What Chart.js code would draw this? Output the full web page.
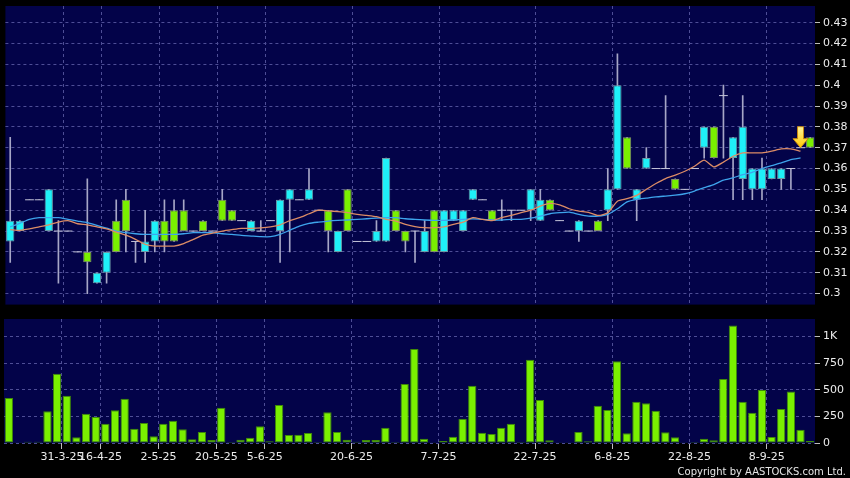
<!DOCTYPE html>
<html><head><meta charset="utf-8">
<script src="https://cdn.jsdelivr.net/npm/chart.js@4.4.1/dist/chart.umd.min.js"></script>
<style>
html,body{margin:0;padding:0;background:#000;width:850px;height:478px;overflow:hidden;font-family:'DejaVu Sans',sans-serif;}
#top{position:absolute;left:0;top:0;}
#bot{position:absolute;left:0;top:312px;}
#copy{position:absolute;right:4px;top:465px;color:#e6e6e6;font:10px 'DejaVu Sans',sans-serif;line-height:13px;white-space:nowrap;}
</style></head><body>
<canvas id="top" width="850" height="310"></canvas>
<canvas id="bot" width="850" height="166"></canvas>
<div id="copy">Copyright by AASTOCKS.com Ltd.</div>
<script>
// ---- data ----
const openP = [.325,.33,.345,.345,.33,.33,.33,.32,.32,.305,
 .31,.335,.345,.325,.32,.325,.335,.34,.34,.33,
 .335,.33,.345,.34,.335,.33,.33,.335,.33,.345,
 .345,.345,.34,.34,.32,.35,.325,.325,.325,.325,
 .34,.33,.33,.32,.34,.32,.335,.33,.345,.345,
 .34,.34,.34,.34,.34,.335,.345,.335,.33,.33,
 .33,.335,.34,.35,.375,.345,.36,.36,.36,.355,
 .35,.36,.37,.38,.395,.365,.355,.35,.35,.355,
 .355,.36,.37,.375];
const highP = [.375,.335,.345,.345,.35,.335,.33,.32,.355,.31,
 .32,.345,.35,.325,.34,.335,.345,.345,.345,.33,
 .335,.33,.35,.34,.335,.335,.335,.335,.345,.35,
 .345,.36,.34,.34,.33,.35,.325,.325,.335,.365,
 .34,.33,.33,.335,.34,.34,.34,.34,.35,.345,
 .34,.345,.34,.34,.35,.35,.345,.335,.33,.335,
 .33,.335,.36,.415,.375,.35,.37,.36,.395,.355,
 .35,.36,.38,.38,.40,.375,.395,.36,.365,.36,
 .36,.36,.37,.375];
const lowP = [.315,.33,.345,.345,.33,.305,.33,.32,.30,.305,
 .305,.32,.32,.315,.315,.32,.32,.325,.33,.33,
 .33,.33,.335,.335,.335,.33,.33,.335,.315,.32,
 .345,.345,.34,.32,.32,.33,.325,.325,.325,.325,
 .33,.32,.315,.32,.32,.32,.335,.33,.345,.345,
 .335,.335,.335,.34,.335,.335,.34,.335,.33,.325,
 .33,.33,.335,.35,.36,.335,.36,.36,.36,.35,
 .35,.36,.365,.365,.365,.345,.345,.345,.345,.355,
 .35,.35,.37,.37];
const closeP = [.335,.335,.345,.345,.35,.33,.33,.32,.315,.31,
 .32,.32,.33,.325,.325,.335,.325,.325,.33,.33,
 .33,.33,.335,.335,.335,.335,.33,.335,.345,.35,
 .345,.35,.34,.33,.33,.33,.325,.325,.33,.365,
 .33,.325,.33,.33,.32,.34,.34,.34,.35,.345,
 .335,.34,.34,.34,.35,.345,.34,.335,.33,.335,
 .33,.33,.35,.40,.36,.35,.365,.36,.36,.35,
 .35,.36,.38,.365,.395,.375,.38,.36,.36,.36,
 .36,.36,.37,.37];
const volume = [422,3,12,12,297,650,444,53,275,244,
 181,306,416,134,188,63,181,209,128,34,
 103,28,331,9,31,50,156,16,356,75,
 78,94,9,288,103,31,12,28,28,144,
 9,553,881,41,3,19,59,228,538,97,
 84,144,181,9,781,403,25,3,3,103,
 16,350,309,766,91,388,372,303,100,53,
 2,9,41,25,600,1103,388,284,497,56,
 319,484,125,19];
const maShort = [.3307,.3303,.331,.332,.333,.3343,.335,.3335,.333,.332,
 .331,.3295,.328,.326,.3236,.3228,.3228,.3228,.324,.326,
 .328,.329,.33,.3307,.3313,.3313,.3315,.332,.333,.335,
 .3364,.3383,.34,.3397,.3393,.3388,.338,.3375,.3369,.3356,
 .3348,.3332,.3321,.3316,.3316,.332,.3332,.3343,.3364,.3356,
 .335,.3364,.3375,.3388,.34,.342,.3433,.3426,.3407,.3396,
 .339,.3375,.3388,.3443,.3455,.3471,.35,.3528,.3552,.3568,
 .3587,.3611,.364,.3608,.3631,.3659,.3675,.3675,.3675,.3683,
 .3694,.3694,.3683,null];
const maLong = [.332,.3337,.3356,.3364,.3364,.3364,.3356,.3348,.334,.3327,
 .3314,.33,.3292,.3287,.3284,.3284,.3284,.3284,.3287,.3292,
 .3292,.3292,.3287,.3284,.3279,.3276,.3273,.3273,.3284,.3304,
 .3324,.3337,.3343,.3348,.3351,.3353,.3356,.3359,.3362,.3364,
 .3364,.3359,.3356,.3353,.3351,.3351,.3353,.3356,.3358,.3356,
 .3353,.3353,.3356,.3356,.3362,.3372,.3383,.3388,.3391,.338,
 .3372,.3372,.338,.3407,.344,.3452,.3458,.3464,.3468,.3472,
 .3479,.3492,.3508,.3523,.3544,.3555,.3571,.3582,.36,.3614,
 .3627,.3643,.3651,null];
const priceTicks = [0.30,0.31,0.32,0.33,0.34,0.35,0.36,0.37,0.38,0.39,0.40,0.41,0.42,0.43];
const volTicks = [0,250,500,750,1000];
const volTickText = ['0','250','500','750','1K'];
const dateTickAt = [6,10,16,22,27,36,45,55,63,71,79];
const dateTickText = ['31-3-25','16-4-25','2-5-25','20-5-25','5-6-25','20-6-25','7-7-25','22-7-25','6-8-25','22-8-25','8-9-25'];
const arrowAt = 82, arrowPrice = 0.37;

// ---- styles ----
const NAVY = '#030349', GRID = '#4e4e96', TICKC = '#bdbdbd', TXT = '#ececec';
const CYAN = '#1ff0f8', CYAN_B = '#6a9aa6', GREEN = '#7af000', GREEN_B = '#82906a';
const WICK = '#a6a6c6', DOJI = '#c4c4d8';
Chart.defaults.font.family = "'DejaVu Sans', sans-serif";

const idx = openP.map((_, i) => i);
const bodyIdx = idx.filter(i => openP[i] !== closeP[i]);
const bodies = bodyIdx.map(i => ({x: i, y: [openP[i], closeP[i]]}));
const bodyFill = bodyIdx.map(i => closeP[i] > openP[i] ? CYAN : GREEN);
const bodyEdge = bodyIdx.map(i => closeP[i] > openP[i] ? CYAN_B : GREEN_B);
const dojis = idx.filter(i => openP[i] === closeP[i]).map(i => ({x: i, y: openP[i]}));
const wicks = idx.map(i => ({x: i, y: [lowP[i], highP[i]]}));

const bgPlugin = {id: 'bg', beforeDraw(chart) {
  const {ctx, chartArea: a} = chart;
  ctx.save(); ctx.fillStyle = NAVY;
  ctx.fillRect(a.left, a.top, a.right - a.left, a.bottom - a.top);
  ctx.restore();
}};
const arrowPlugin = {id: 'arrow', afterDatasetsDraw(chart) {
  const ctx = chart.ctx;
  const x = chart.scales.x.getPixelForValue(arrowAt);
  const y = chart.scales.y.getPixelForValue(arrowPrice);
  ctx.save();
  const g = ctx.createLinearGradient(0, y - 21, 0, y);
  g.addColorStop(0, '#fff59a'); g.addColorStop(1, '#ffc800');
  ctx.beginPath();
  ctx.moveTo(x - 3, y - 21); ctx.lineTo(x + 3, y - 21); ctx.lineTo(x + 3, y - 9);
  ctx.lineTo(x + 7.5, y - 9); ctx.lineTo(x, y); ctx.lineTo(x - 7.5, y - 9);
  ctx.lineTo(x - 3, y - 9); ctx.closePath();
  ctx.fillStyle = g; ctx.fill();
  ctx.lineWidth = 1; ctx.strokeStyle = '#c88a10'; ctx.stroke();
  ctx.restore();
}};

const xCommon = (showLabels) => ({
  type: 'linear', min: -0.5, max: 83.5, offset: false,
  grid: {offset: false, color: GRID, lineWidth: 1, drawTicks: showLabels, tickLength: 6, tickColor: TICKC},
  border: {display: false, dash: [3, 3]},
  ticks: {display: showLabels, autoSkip: false, maxRotation: 0, minRotation: 0, padding: 2,
    color: TXT, font: {size: 11}, callback: (v, i) => dateTickText[i]},
  afterBuildTicks: s => { s.ticks = dateTickAt.map(i => ({value: i - 0.5})); },
  afterFit: s => { s.height = showLabels ? 35 : 0; s.paddingLeft = 0; s.paddingRight = 0; }
});

new Chart(document.getElementById('top'), {
  type: 'bar',
  data: {datasets: [
    {type: 'line', data: maShort.map((v, i) => ({x: i, y: v})), borderColor: '#dc8c66', borderWidth: 1.3, pointRadius: 0, tension: 0.2, order: 0},
    {type: 'line', data: maLong.map((v, i) => ({x: i, y: v})), borderColor: '#3ea4ec', borderWidth: 1.3, pointRadius: 0, tension: 0.2, order: 0},
    {type: 'bar', data: bodies, backgroundColor: bodyFill, borderColor: bodyEdge, borderWidth: 1, borderSkipped: false,
      grouped: false, barPercentage: 0.86, categoryPercentage: 1, order: 1},
    {type: 'scatter', data: dojis, pointStyle: 'line', pointRadius: 4.4, borderColor: DOJI, pointBorderColor: DOJI, pointBorderWidth: 1, showLine: false, order: 1},
    {type: 'bar', data: wicks, backgroundColor: WICK, borderWidth: 0, grouped: false, barThickness: 1, maxBarThickness: 1, order: 2}
  ]},
  options: {
    responsive: false, animation: false, events: [],
    layout: {padding: {left: 4, top: 6, right: 0, bottom: 5}},
    plugins: {legend: {display: false}, tooltip: {enabled: false}},
    scales: {
      x: xCommon(false),
      y: {type: 'linear', position: 'right', min: 0.2947, max: 0.438,
        grid: {color: GRID, tickColor: TICKC, tickLength: 5},
        border: {display: false, dash: [3, 3]},
        ticks: {color: TXT, font: {size: 11}, padding: 3, autoSkip: false,
          callback: v => String(Math.round(v * 100) / 100)},
        afterBuildTicks: s => { s.ticks = priceTicks.map(v => ({value: v})); },
        afterFit: s => { s.width = 35; s.paddingTop = 0; s.paddingBottom = 0; }}
    }
  },
  plugins: [bgPlugin, arrowPlugin]
});

new Chart(document.getElementById('bot'), {
  type: 'bar',
  data: {datasets: [
    {data: volume.map((v, i) => ({x: i, y: v})), backgroundColor: '#7af000', borderColor: '#3f8a08', borderWidth: 1, borderSkipped: false,
      grouped: false, barPercentage: 0.86, categoryPercentage: 1}
  ]},
  options: {
    responsive: false, animation: false, events: [],
    layout: {padding: {left: 4, top: 7, right: 0, bottom: 0}},
    plugins: {legend: {display: false}, tooltip: {enabled: false}},
    scales: {
      x: xCommon(true),
      y: {type: 'linear', position: 'right', min: 0, max: 1163,
        grid: {color: GRID, tickColor: TICKC, tickLength: 5},
        border: {display: false, dash: [3, 3]},
        ticks: {color: TXT, font: {size: 11}, padding: 3, autoSkip: false, callback: (v, i) => volTickText[i]},
        afterBuildTicks: s => { s.ticks = volTicks.map(v => ({value: v})); },
        afterFit: s => { s.width = 35; s.paddingTop = 0; s.paddingBottom = 0; }}
    }
  },
  plugins: [bgPlugin]
});
</script>
</body></html>
